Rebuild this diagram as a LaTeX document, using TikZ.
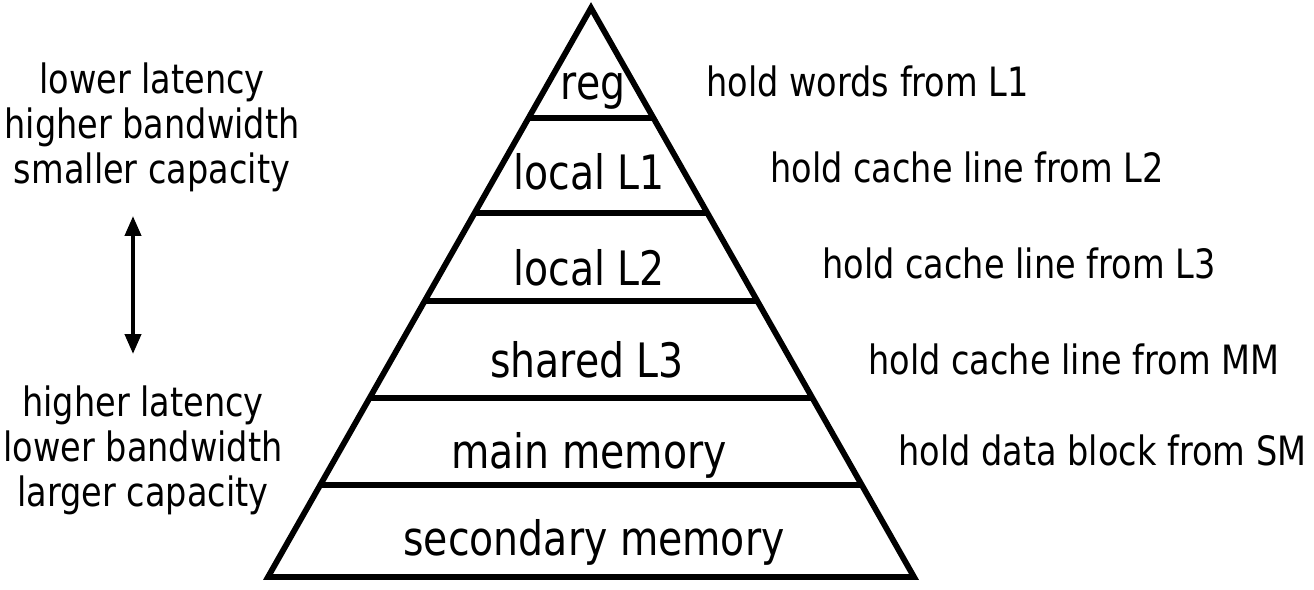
\documentclass[tikz,border=0pt]{standalone}
\usepackage{fontspec}
\usetikzlibrary{calc,arrows.meta}
\newfontfamily\tahomaish[FakeStretch=0.83]{DejaVu Sans}
\tikzset{
  level/.style={font=\tahomaish\fontsize{27}{30}\selectfont, inner sep=0pt, anchor=base},
  note/.style={font=\tahomaish\fontsize{23}{25.6}\selectfont, inner sep=0pt, anchor=base west},
  side/.style={font=\tahomaish\fontsize{23}{25.6}\selectfont, inner sep=0pt, align=center},
  pyr/.style={line width=3.3pt, line join=miter}
}
\begin{document}
\begin{tikzpicture}[x=0.02cm,y=-0.02cm]
				  \useasboundingbox (0,0) rectangle (1314,590);
				  %PYRAMIDE
				  \coordinate (T) at (591,8);
				  \coordinate (BL) at (268,577);
				  \coordinate (BR) at (914,577);
				  \draw[pyr] (BL) -- (T) -- (BR) -- cycle;
				  %NIVEAUX
				  \foreach \t [count=\i] in {0.1933,0.3603,0.5149,0.6854,0.8383}{
				    \draw[pyr] ($(T)!\t!(BL)$) coordinate (L\i) -- ($(T)!\t!(BR)$) coordinate (R\i);
				  }
				  %TEXTES
				  \node[level] (reg) at (593,100) {reg};
				  \node[level] (lone) at (589,190) {local L1};
				  \node[level] (ltwo) at (589,286) {local L2};
				  \node[level] (lthree) at (587,378) {shared L3};
				  \node[level] (mm) at (589,469) {main memory};
				  \node[level] (sm) at (594,556) {secondary memory};
				  %A DROITE
				  \node[note] (hreg) at (706,97) {hold words from L1};
				  \node[note] (hone) at (770,183) {hold cache line from L2};
				  \node[note] (htwo) at (822,279) {hold cache line from L3};
				  \node[note] (hthree) at (868,375) {hold cache line from MM};
				  \node[note] (hmm) at (898,466) {hold data block from SM};
				  %A GAUCHE
				  \node[side] (fast) at (152,127) {lower latency\\higher bandwidth\\smaller capacity};
				  \node[side] (slow) at (143,450) {higher latency\\lower bandwidth\\larger capacity};
				  \coordinate (up) at (133,216);
				  \coordinate (down) at (133,354);
				  \draw[{Triangle[length=0.4cm,width=0.32cm]}-{Triangle[length=0.4cm,width=0.32cm]}, line width=2.3pt] (up) -- (down);
\end{tikzpicture}
\end{document}
